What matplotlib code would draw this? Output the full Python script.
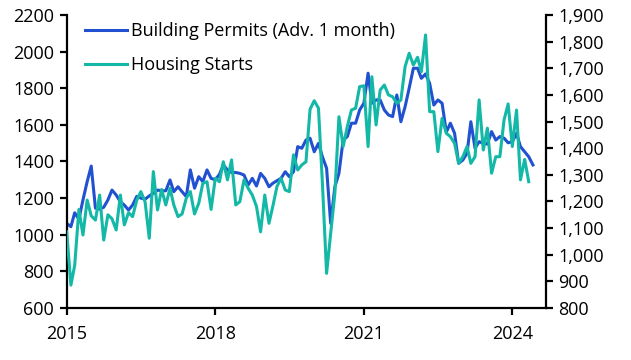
import numpy as np
import pandas as pd
import matplotlib
matplotlib.use("Agg")
import matplotlib.pyplot as plt
import matplotlib.dates as mdates
from matplotlib.ticker import FuncFormatter

# Building permits, advanced one month (left axis), Jan 2015 - Jun 2024
permits = [1062, 1044, 1120, 1085, 1190, 1290, 1375, 1145, 1140, 1150, 1190, 1244,
           1217, 1180, 1162, 1135, 1162, 1210, 1200, 1194, 1212, 1226, 1244, 1240,
           1240, 1299, 1235, 1262, 1235, 1208, 1354, 1254, 1317, 1290, 1354, 1308,
           1300, 1330, 1381, 1354, 1340, 1340, 1335, 1326, 1272, 1308, 1266, 1335,
           1308, 1262, 1281, 1295, 1308, 1344, 1317, 1344, 1481, 1472, 1517, 1527,
           1453, 1499, 1426, 1363, 1062, 1262, 1335, 1517, 1536, 1609, 1609, 1681,
           1718, 1882, 1718, 1736, 1736, 1681, 1654, 1645, 1763, 1617, 1699, 1800,
           1909, 1909, 1854, 1878, 1827, 1708, 1736, 1718, 1560, 1609, 1554, 1390,
           1408, 1445, 1617, 1472, 1508, 1499, 1495, 1563, 1517, 1536, 1527, 1502,
           1508, 1554, 1481, 1453, 1426, 1381]

# Housing starts (right axis), Jan 2015 - May 2024
starts = [1086, 886, 960, 1170, 1074, 1205, 1146, 1130, 1224, 1055, 1150, 1135,
          1093, 1224, 1112, 1158, 1143, 1205, 1237, 1199, 1062, 1312, 1168, 1245,
          1187, 1249, 1187, 1143, 1153, 1212, 1237, 1153, 1193, 1268, 1274, 1170,
          1287, 1274, 1349, 1281, 1356, 1187, 1199, 1281, 1249, 1224, 1181, 1086,
          1224, 1118, 1181, 1256, 1287, 1243, 1237, 1375, 1318, 1337, 1349, 1546,
          1578, 1550, 1270, 930, 1080, 1230, 1518, 1406, 1481, 1543, 1550, 1631,
          1634, 1406, 1668, 1487, 1618, 1637, 1600, 1593, 1568, 1581, 1706, 1756,
          1712, 1741, 1687, 1825, 1537, 1537, 1387, 1512, 1456, 1443, 1418, 1343,
          1368, 1406, 1343, 1368, 1581, 1393, 1475, 1306, 1368, 1368, 1506, 1566,
          1406, 1543, 1281, 1358, 1274]

permit_dates = pd.date_range("2015-01-01", periods=len(permits), freq="MS")
start_dates = pd.date_range("2015-01-01", periods=len(starts), freq="MS")

year_ticks = [2015, 2018, 2021, 2024]
left_ticks = list(range(600, 2201, 200))
right_ticks = list(range(800, 1901, 100))

BLUE = '#2151d1'
TEAL = '#13b8a7'

plt.rcParams['font.family'] = ['Open Sans', 'DejaVu Sans']
plt.rcParams['font.size'] = 13

fig = plt.figure(figsize=(6.31, 3.60), dpi=100)
ax = fig.add_axes([0.1057, 0.1444, 0.7593, 0.8141])
ax2 = ax.twinx()

l1, = ax.plot(permit_dates, permits, color=BLUE, lw=2.2, solid_joinstyle='round')
l2, = ax2.plot(start_dates, starts, color=TEAL, lw=2.2, solid_joinstyle='round')

ax.set_ylim(600, 2200)
ax2.set_ylim(800, 1900)
ax.set_yticks(left_ticks)
ax2.set_yticks(right_ticks)
ax2.yaxis.set_major_formatter(FuncFormatter(lambda v, p: f"{int(v):,}"))

ax.set_xlim(pd.Timestamp("2015-01-01"), pd.Timestamp("2024-09-04"))
ax.set_xticks([pd.Timestamp(f"{y}-01-01") for y in year_ticks])
ax.xaxis.set_major_formatter(mdates.DateFormatter("%Y"))

for a in (ax, ax2):
    a.spines['top'].set_visible(False)
    for s in ('left', 'right', 'bottom'):
        a.spines[s].set_linewidth(1.6)
    a.tick_params(width=1.6, length=5, labelsize=13, colors='black')
ax.spines['right'].set_visible(False)
ax2.spines['left'].set_visible(False)
ax2.spines['bottom'].set_visible(False)
ax.tick_params(axis='x', pad=7)
ax.tick_params(axis='y', pad=4)
ax2.tick_params(axis='y', pad=4)

ax.legend([l1, l2], ["Building Permits (Adv. 1 month)", "Housing Starts"],
          loc='upper left', bbox_to_anchor=(0.038, 0.976), frameon=False,
          borderpad=0, borderaxespad=0,
          handlelength=2.33, labelspacing=0.9, handletextpad=0.2, fontsize=13)

fig.savefig("out.png", dpi=100)
